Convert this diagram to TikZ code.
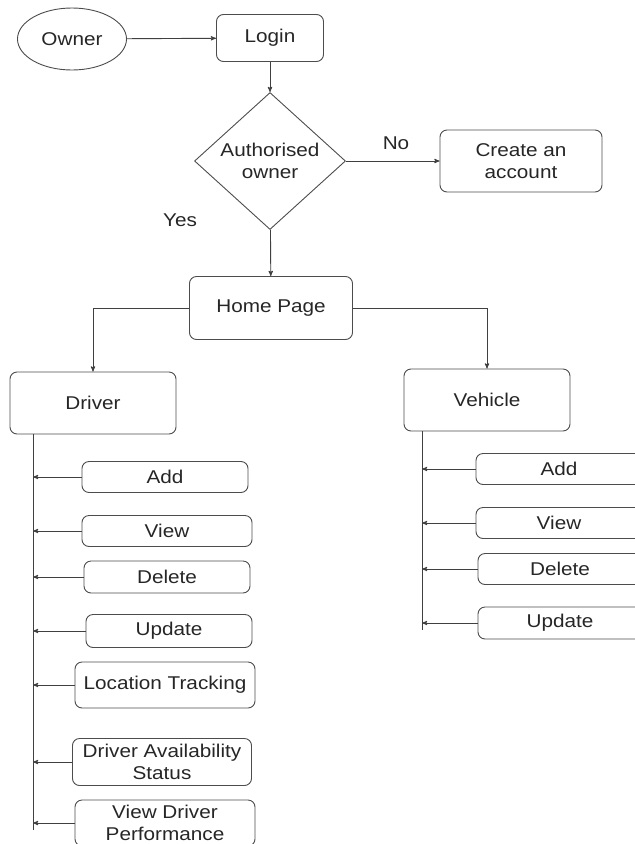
\documentclass[tikz,border=0pt]{standalone}
\usepackage{fontspec}
\setmainfont{Liberation Sans}[FakeStretch=1.12]
\usetikzlibrary{arrows, shapes.geometric, positioning}

\begin{document}
\begin{tikzpicture}[x=1pt,y=-1pt,>=stealth',line width=0.9pt,
    every node/.style={font=\fontsize{18.5}{22}\selectfont,text=black!85},
    box/.style={draw=black!70,rounded corners=7pt,align=center,inner sep=0pt},
    decision/.style={draw=black!70,diamond,aspect=1.1,inner sep=0pt,align=center,
        minimum width=151pt,minimum height=137pt},
    link/.style={->,draw=black!75}]
    \useasboundingbox (0,0) rectangle (635,844);
    % top part
    \node[draw=black!70,ellipse,minimum width=109pt,minimum height=62pt,inner sep=0pt]
                                (owner)   at (72,39)   {Owner};
    \node[box,minimum width=107pt,minimum height=47pt]  (login)   at (270,38)  {Login};
    \node[decision]             (auth)    at (270,161) {Authorised\\owner};
    \node[box,minimum width=162pt,minimum height=62pt]  (create)  at (521,161) {Create an\\account};
    \node[box,minimum width=163pt,minimum height=63pt]  (home)    at (271,308) {Home Page};
    \node                       (no)      at (396,143) {No};
    \node                       (yes)     at (180,220) {Yes};
    \path (owner) edge [link] (login);
    \path (login) edge [link] (auth);
    \path (auth)  edge [link] (create);
    \path (auth)  edge [link] (home);
    % the two branches
    \node[box,minimum width=166pt,minimum height=62pt]  (driver)  at (93,403)  {Driver};
    \node[box,minimum width=166pt,minimum height=62pt]  (vehicle) at (487,400) {Vehicle};
    \draw[link] (home.west) -| (driver.north);
    \draw[link] (home.east) -| (vehicle.north);
    % driver options
    \coordinate (dend) at (33,830);
    \draw[draw=black!75] (dend |- driver.south) -- (dend);
    \node[box,minimum width=166pt,minimum height=31pt]  (dadd)    at (165,477) {Add};
    \node[box,minimum width=170pt,minimum height=31pt]  (dview)   at (167,531) {View};
    \node[box,minimum width=166pt,minimum height=32pt]  (ddel)    at (167,577) {Delete};
    \node[box,minimum width=166pt,minimum height=33pt]  (dupd)    at (169,631) {Update};
    \node[box,minimum width=180pt,minimum height=46pt]  (dloc)    at (165,685) {Location Tracking};
    \node[box,minimum width=179pt,minimum height=47pt]  (davail)  at (162,762) {Driver Availability\\Status};
    \node[box,minimum width=180pt,minimum height=46pt]  (dperf)   at (165,823) {View Driver\\Performance};
    \draw[link] (dadd)   -- (dadd -| dend);
    \draw[link] (dview)  -- (dview -| dend);
    \draw[link] (ddel)   -- (ddel -| dend);
    \draw[link] (dupd)   -- (dupd -| dend);
    \draw[link] (dloc)   -- (dloc -| dend);
    \draw[link] (davail) -- (davail -| dend);
    \draw[link] (dperf)  -- (dperf -| dend);
    % vehicle options (cut off at the right edge)
    \coordinate (vend) at (422,630);
    \draw[draw=black!75] (vend |- vehicle.south) -- (vend);
    \node[box,minimum width=166pt,minimum height=31pt]  (vadd)    at (559,469) {Add};
    \node[box,minimum width=166pt,minimum height=31pt]  (vview)   at (559,523) {View};
    \node[box,minimum width=164pt,minimum height=31pt]  (vdel)    at (560,569) {Delete};
    \node[box,minimum width=164pt,minimum height=32pt]  (vupd)    at (560,623) {Update};
    \draw[link] (vadd)  -- (vadd -| vend);
    \draw[link] (vview) -- (vview -| vend);
    \draw[link] (vdel)  -- (vdel -| vend);
    \draw[link] (vupd)  -- (vupd -| vend);
\end{tikzpicture}
\end{document}
